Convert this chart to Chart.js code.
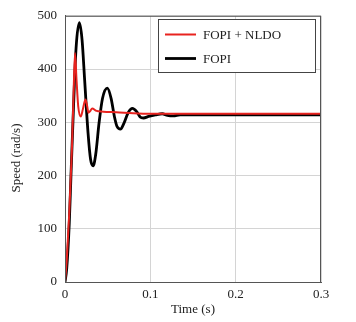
<!DOCTYPE html>
<html>
<head>
<meta charset="utf-8">
<script src="https://cdn.jsdelivr.net/npm/chart.js@4.4.0/dist/chart.umd.min.js"></script>
<style>
  html, body { margin: 0; padding: 0; background: #fff; }
  #wrap { width: 356px; height: 322px; }
</style>
</head>
<body>
<div id="wrap"><canvas id="chart" width="356" height="322"></canvas></div>
<script>
// series: time (s) / speed (rad/s)
const timeNldo  = [0, 0.002, 0.005, 0.008, 0.010, 0.0117, 0.0135, 0.0155, 0.0185, 0.021, 0.024, 0.026, 0.0275, 0.029, 0.032, 0.036, 0.045, 0.06, 0.08, 0.1, 0.15, 0.2, 0.3];
const speedNldo = [0, 40, 130, 245, 350, 430, 380, 330, 311, 325, 343, 330, 318, 320, 326, 322, 320, 319, 317, 316, 316, 316, 316];

const timeFopi  = [0, 0.002, 0.005, 0.007, 0.010, 0.013, 0.0168, 0.020, 0.023, 0.027, 0.030, 0.033, 0.036, 0.040, 0.044, 0.0496, 0.054, 0.058, 0.061, 0.065, 0.069, 0.074, 0.079, 0.084, 0.088, 0.092, 0.098, 0.106, 0.114, 0.120, 0.127, 0.135, 0.15, 0.2, 0.3];
const speedFopi = [0, 25, 110, 200, 330, 440, 487, 455, 380, 280, 230, 218, 240, 300, 345, 364, 345, 310, 292, 287, 298, 318, 326, 320, 310, 308, 311, 314, 316, 313, 312, 314, 314, 314, 314];

const seriesNames = ['FOPI + NLDO', 'FOPI'];
const seriesColors = ['#e8231f', '#000000'];
const xTicks = [0, 0.1, 0.2, 0.3];
const yTicks = [0, 100, 200, 300, 400, 500];
const yTitle = 'Speed (rad/s)';

function pairs(xs, ys) {
  return xs.map((x, i) => ({ x: x, y: ys[i] }));
}

const serif = '"Liberation Serif", "Times New Roman", serif';

// frame, y title and legend box, drawn by hand
const boxLegend = {
  id: 'boxLegend',
  afterDraw(chart) {
    const ctx = chart.ctx;
    const a = chart.chartArea;
    ctx.save();
    // plot frame
    ctx.strokeStyle = '#555';
    ctx.lineWidth = 1;
    ctx.strokeRect(a.left + 0.5, a.top + 0.5, a.right - a.left - 1, a.bottom - a.top);
    // y title (sits a bit below the plot middle in the original)
    ctx.save();
    ctx.translate(16.5, 158);
    ctx.rotate(-Math.PI / 2);
    ctx.font = '13px ' + serif;
    ctx.fillStyle = '#222';
    ctx.textAlign = 'center';
    ctx.textBaseline = 'middle';
    ctx.fillText(yTitle, 0, 0);
    ctx.restore();
    // legend box
    const bx = 158, by = 19.5, bw = 157, bh = 53;
    ctx.fillStyle = '#fff';
    ctx.fillRect(bx, by, bw, bh);
    ctx.strokeStyle = '#444';
    ctx.strokeRect(bx + 0.5, by, bw, bh);
    ctx.font = '13px ' + serif;
    ctx.textBaseline = 'middle';
    chart.data.datasets.forEach((ds, i) => {
      const y = by + 15 + i * 24;
      ctx.strokeStyle = ds.borderColor;
      ctx.lineWidth = ds.borderWidth;
      ctx.beginPath();
      ctx.moveTo(bx + 7, y);
      ctx.lineTo(bx + 38, y);
      ctx.stroke();
      ctx.fillStyle = '#222';
      ctx.fillText(ds.label, bx + 45, y + 1);
    });
    ctx.restore();
  }
};

const tickFont = { family: serif, size: 13 };

new Chart(document.getElementById('chart').getContext('2d'), {
  type: 'line',
  data: {
    datasets: [
      {
        label: seriesNames[0],
        data: pairs(timeNldo, speedNldo),
        borderColor: seriesColors[0],
        borderWidth: 2,
        pointRadius: 0,
        cubicInterpolationMode: 'monotone',
        order: 0
      },
      {
        label: seriesNames[1],
        data: pairs(timeFopi, speedFopi),
        borderColor: seriesColors[1],
        borderWidth: 2.8,
        pointRadius: 0,
        cubicInterpolationMode: 'monotone',
        order: 1
      }
    ]
  },
  options: {
    responsive: false,
    animation: false,
    layout: { padding: { top: 14, right: 35, left: 0, bottom: 0 } },
    plugins: {
      legend: { display: false },
      tooltip: { enabled: false }
    },
    scales: {
      x: {
        type: 'linear',
        min: 0,
        max: 0.3,
        afterBuildTicks(scale) { scale.ticks = xTicks.map(v => ({ value: v })); },
        afterFit(scale) { scale.height = 40; },
        grid: { color: '#d4d4d4', drawTicks: false },
        border: { color: '#555' },
        ticks: { font: tickFont, color: '#222', padding: 5, maxRotation: 0 },
        title: { display: true, text: 'Time (s)', font: tickFont, color: '#222', padding: { top: 0, bottom: 5 } }
      },
      y: {
        min: 0,
        max: 500,
        afterBuildTicks(scale) { scale.ticks = yTicks.map(v => ({ value: v })); },
        afterFit(scale) { scale.width = 65; },
        grid: { color: '#d4d4d4', drawTicks: false },
        border: { color: '#555' },
        ticks: { font: tickFont, color: '#222', padding: 8 }
      }
    }
  },
  plugins: [boxLegend]
});
</script>
</body>
</html>
